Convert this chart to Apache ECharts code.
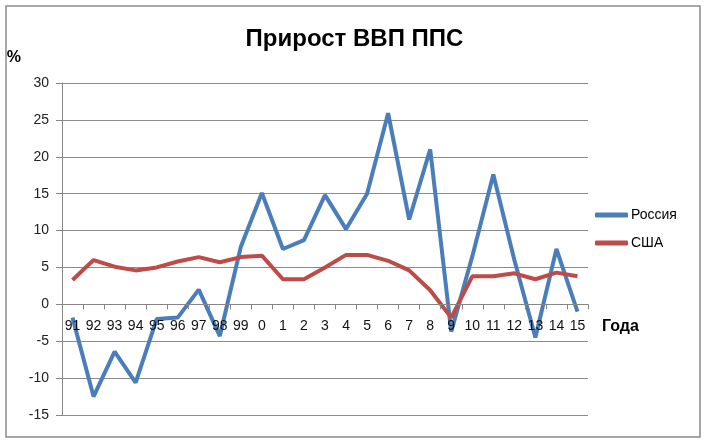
<!DOCTYPE html>
<html>
<head>
<meta charset="utf-8">
<script src="https://cdn.jsdelivr.net/npm/echarts@6/dist/echarts.min.js"></script>
<style>
html,body{margin:0;padding:0;background:#fff;}
#chart{width:709px;height:447px;}
</style>
</head>
<body>
<div id="chart"></div>
<script>
const categories = ['91','92','93','94','95','96','97','98','99','0','1','2','3','4','5','6','7','8','9','10','11','12','13','14','15'];
const russia = [-1.8,-12.5,-6.4,-10.6,-2.0,-1.8,2.0,-4.3,7.8,15.1,7.5,8.7,14.8,10.2,15.0,25.9,11.5,21.0,-3.7,6.5,17.6,6.0,-4.5,7.5,-1.0];
const usa = [3.3,6.0,5.1,4.6,5.0,5.8,6.4,5.7,6.4,6.6,3.4,3.4,5.0,6.7,6.7,5.9,4.6,1.9,-1.8,3.8,3.8,4.2,3.4,4.3,3.8];
const yTicks = {min: -15, max: 30, interval: 5};

const FONT = 'Liberation Sans';
const GRID = {left: 62, right: 121, top: 83, bottom: 32};
const plotH = 447 - GRID.top - GRID.bottom;
// shift the category axis up so it sits on the value 0
const zeroOffset = -plotH * (0 - yTicks.min) / (yTicks.max - yTicks.min);

const chart = echarts.init(document.getElementById('chart'), null, {renderer: 'canvas'});
chart.setOption({
  animation: false,
  backgroundColor: '#fff',
  textStyle: {fontFamily: FONT},
  title: {
    text: 'Прирост ВВП ППС',
    left: 'center',
    top: 22,
    textStyle: {fontFamily: FONT, fontSize: 24, fontWeight: 'bold', color: '#000'}
  },
  graphic: [{
    type: 'rect',
    shape: {x: 6, y: 6, width: 694, height: 431},
    style: {fill: 'none', stroke: '#8a8a8a', lineWidth: 1.5},
    silent: true,
    z: -10
  }],
  legend: {
    orient: 'vertical',
    left: 590,
    top: 203,
    itemWidth: 33,
    itemHeight: 5,
    itemGap: 14,
    icon: 'roundRect',
    textStyle: {fontFamily: FONT, fontSize: 14, color: '#000', padding: [0,0,0,-2]},
    data: ['Россия', 'США']
  },
  grid: Object.assign({containLabel: false}, GRID),
  xAxis: {
    type: 'category',
    data: categories,
    boundaryGap: true,
    position: 'bottom',
    offset: zeroOffset,
    z: 5,
    name: 'Года',
    nameLocation: 'end',
    nameGap: 14,
    nameTextStyle: {fontFamily: FONT, fontSize: 16, fontWeight: 'bold', color: '#000', verticalAlign: 'top', align: 'left', padding: [14,0,0,0]},
    axisLine: {onZero: false, lineStyle: {color: '#868686', width: 1}},
    axisTick: {show: true, length: 5, inside: false, lineStyle: {color: '#868686'}},
    axisLabel: {interval: 0, margin: 15, fontFamily: FONT, fontSize: 14, color: '#111'},
    splitLine: {show: false}
  },
  yAxis: {
    type: 'value',
    min: yTicks.min,
    max: yTicks.max,
    interval: yTicks.interval,
    name: '%',
    nameLocation: 'end',
    nameGap: 25,
    nameTextStyle: {fontFamily: FONT, fontSize: 16, fontWeight: 'bold', color: '#000', align: 'right', verticalAlign: 'middle', padding: [0,41,0,0]},
    axisLine: {show: true, lineStyle: {color: '#868686', width: 1}},
    axisTick: {show: true, length: 6, lineStyle: {color: '#868686'}},
    axisLabel: {margin: 13, fontFamily: FONT, fontSize: 14, color: '#222'},
    splitLine: {show: true, lineStyle: {color: '#8c8c8c', width: 1}}
  },
  series: [
    {
      name: 'Россия',
      type: 'line',
      data: russia,
      showSymbol: false,
      symbol: 'none',
      lineStyle: {width: 4, color: '#4A7EBB'},
      itemStyle: {color: '#4A7EBB'},
      z: 2
    },
    {
      name: 'США',
      type: 'line',
      data: usa,
      showSymbol: false,
      symbol: 'none',
      lineStyle: {width: 4, color: '#BE4B48'},
      itemStyle: {color: '#BE4B48'},
      z: 3
    }
  ]
});
</script>
</body>
</html>
